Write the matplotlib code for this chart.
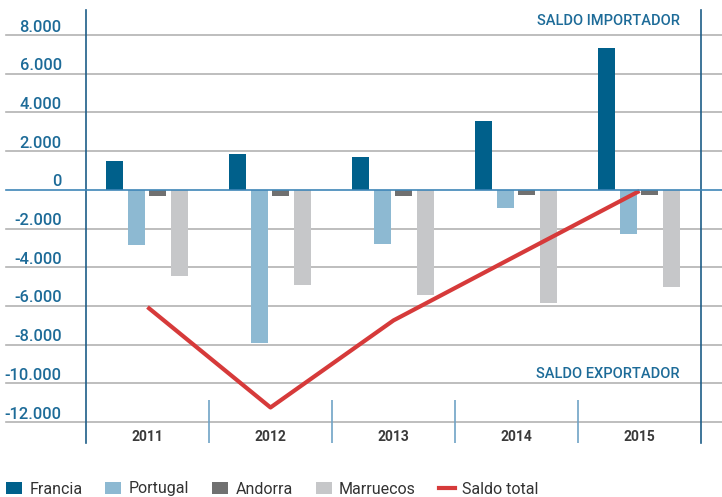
import matplotlib
matplotlib.use("Agg")
import matplotlib.pyplot as plt
import numpy as np
from matplotlib.lines import Line2D
from matplotlib.patches import Patch
from matplotlib.transforms import ScaledTranslation

plt.rcParams["font.family"] = ["Roboto", "DejaVu Sans"]

# data (millones de euros)
years = ["2011", "2012", "2013", "2014", "2015"]
francia = [1500, 1870, 1710, 3580, 7320]
portugal = [-2840, -7930, -2800, -920, -2270]
andorra = [-310, -300, -300, -250, -250]
marruecos = [-4480, -4930, -5430, -5850, -5010]
saldo_total = [-6060, -11250, -6750, -3400, -60]

series_names = ["Francia", "Portugal", "Andorra", "Marruecos"]
series_colors = ["#00608b", "#8db9d2", "#707070", "#c6c7c9"]
line_color = "#d63a3a"
blue_text = "#1d6b98"
grid_color = "#b3b3b3"
axis_blue = "#1e5d88"

y_ticks = np.arange(-12000, 8001, 2000)

fig = plt.figure(figsize=(7.22, 4.97), dpi=100)
ax = fig.add_axes([86 / 722, 54 / 497, 615 / 722, 433 / 497])

x = np.arange(len(years))
step = 0.176
width = 0.138
for i, (vals, color) in enumerate(zip([francia, portugal, andorra, marruecos], series_colors)):
    ax.bar(x + (i - 1.5) * step - 0.004, vals, width=width, color=color, zorder=3)

ax.plot(x, saldo_total, color=line_color, lw=3.0, zorder=4, solid_capstyle="butt")

ax.set_xlim(-0.5, len(years) - 0.5)
ax.set_ylim(-13085, 9292)

# horizontal grid lines running across the whole width
for v in y_ticks:
    if v == 0:
        ax.axhline(0, xmin=-80 / 615, xmax=636 / 615, color="#3f86b8", lw=1.2, zorder=5, clip_on=False)
    else:
        ax.axhline(v, xmin=-80 / 615, xmax=636 / 615, color=grid_color, lw=1.2, zorder=1, clip_on=False)

# separators between years
ax.vlines(x[:-1] + 0.5, -13085, -10860, color="#6fa3c6", lw=1.2, zorder=2)

for s in ["top", "bottom"]:
    ax.spines[s].set_visible(False)
for s in ["left", "right"]:
    ax.spines[s].set_color(axis_blue)
    ax.spines[s].set_linewidth(1.2)

ax.set_xticks([])
ax.set_yticks(y_ticks)
ax.set_yticklabels([f"{v:,}".replace(",", ".") for v in y_ticks])
ax.tick_params(axis="y", length=0, pad=17.5, labelsize=11.8, labelcolor=blue_text)
for lab in ax.get_yticklabels():
    lab.set_fontweight("medium")
    lab.set_transform(lab.get_transform() + ScaledTranslation(0, 0.095, fig.dpi_scale_trans))

trans = ax.get_xaxis_transform()
for xi, yr in zip(x, years):
    ax.text(xi, 0.014, yr, transform=trans, ha="center", va="center",
            fontsize=10, fontweight="bold", color="#3a3a3a")

ax.text(4.329, 8723, "SALDO IMPORTADOR", ha="right", va="center", fontsize=10.5,
        fontweight="medium", color=blue_text)
ax.text(4.329, -9519, "SALDO EXPORTADOR", ha="right", va="center", fontsize=10.5,
        fontweight="medium", color=blue_text)

handles = [Patch(facecolor=c, edgecolor="none") for c in series_colors]
handles.append(Line2D([], [], color=line_color, lw=3.0))
fig.legend(handles, series_names + ["Saldo total"], loc="center left",
           bbox_to_anchor=(6 / 722, 8 / 497), ncol=5, frameon=False, borderpad=0,
           borderaxespad=0, handlelength=1.0, handleheight=0.7, handletextpad=0.45,
           columnspacing=1.45, fontsize=11.5, labelcolor="#333333")

fig.savefig("out.png", dpi=100)
